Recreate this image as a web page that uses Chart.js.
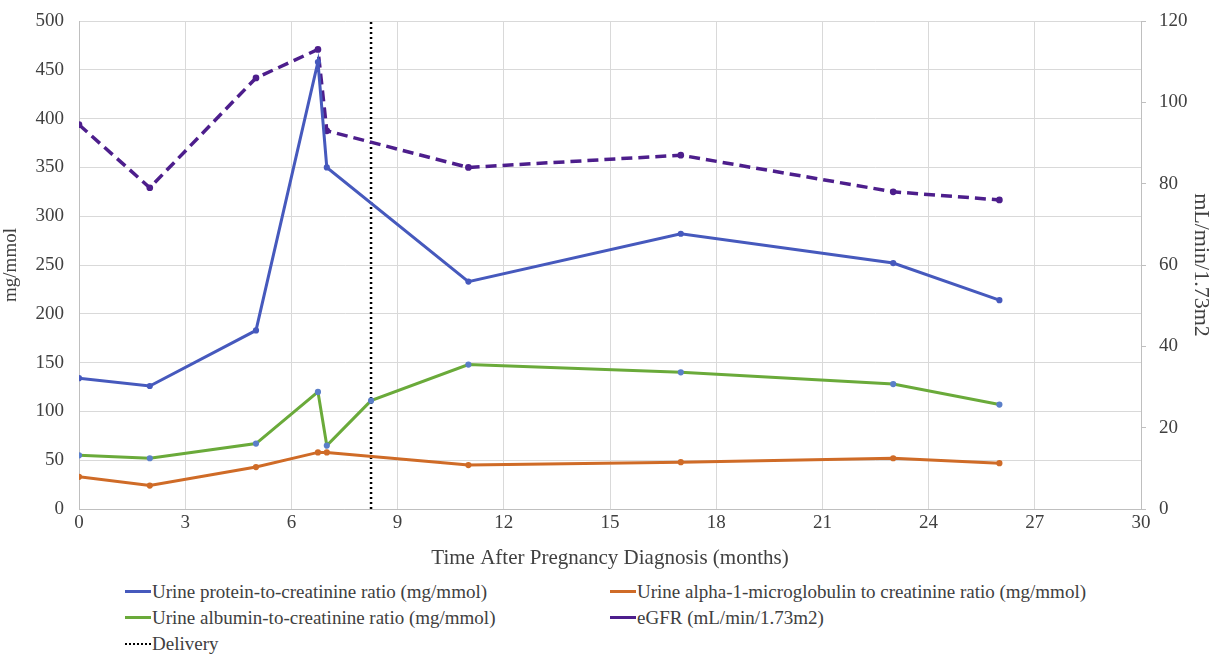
<!DOCTYPE html>
<html>
<head>
<meta charset="utf-8">
<script src="https://cdn.jsdelivr.net/npm/chart.js@4.4.1/dist/chart.umd.min.js"></script>
<style>
  body { margin: 0; background: #fff; }
  #wrap { position: relative; width: 1214px; height: 654px; }
  #chart { position: absolute; left: 0; top: 0; }
  #legend { position: absolute; left: 125px; top: 580px; font-family: "Liberation Serif", serif; font-size: 19px; color: #404040;
    display: grid; grid-template-columns: 485px 500px; row-gap: 3px; }
  .item { display: flex; align-items: center; height: 23px; white-space: nowrap; }
  .sw { width: 26px; height: 3px; margin-right: 1px; }
</style>
</head>
<body>
<div id="wrap">
  <canvas id="chart" width="1214" height="575"></canvas>
  <div id="legend"></div>
</div>
<script>
// Months after pregnancy diagnosis (8.25 = delivery, only albumin measured there)
const months = [0, 2, 5, 6.75, 7, 8.25, 11, 17, 23, 26];
const protein = [134, 126, 183, 458, 350, null, 233, 282, 252, 214];
const alpha1 = [33, 24, 43, 58, 58, null, 45, 48, 52, 47];
const albumin = [55, 52, 67, 120, 65, 111, 148, 140, 128, 107];
const egfr = [94.5, 79, 106, 113, 93, null, 84, 87, 78, 76];
const deliveryMonth = 8.25;

const xTicks = [0, 3, 6, 9, 12, 15, 18, 21, 24, 27, 30];

const toPts = arr => months.map((m, i) => ({ x: m, y: arr[i] })).filter(p => p.y !== null);

const BLUE = '#4659bd', ORANGE = '#cf6b27', GREEN = '#6aaa3a', PURPLE = '#4d1e8c';
const FONT = 'Liberation Serif';
const TXT = '#404040';

// keep the plot box fixed, labels may overhang it
const fixY = w => s => { s.width = w; s.paddingTop = 0; s.paddingBottom = 0; };

new Chart(document.getElementById('chart'), {
    type: 'line',
    data: {
        datasets: [
            { label: 'Urine protein-to-creatinine ratio (mg/mmol)', data: toPts(protein), borderColor: BLUE, backgroundColor: BLUE, borderWidth: 3, pointRadius: 1.6, yAxisID: 'y' },
            { label: 'Urine alpha-1-microglobulin to creatinine ratio (mg/mmol)', data: toPts(alpha1), borderColor: ORANGE, backgroundColor: ORANGE, borderWidth: 3, pointRadius: 1.6, yAxisID: 'y' },
            { label: 'Urine albumin-to-creatinine ratio (mg/mmol)', data: toPts(albumin), borderColor: GREEN, backgroundColor: '#5b7fc9', pointBorderColor: '#5b7fc9', borderWidth: 3, pointRadius: 1.6, yAxisID: 'y' },
            { label: 'eGFR (mL/min/1.73m2)', data: toPts(egfr), borderColor: PURPLE, backgroundColor: PURPLE, borderWidth: 3.5, borderDash: [11, 6], pointRadius: 1.6, yAxisID: 'y1' },
            { label: 'Delivery', data: [{ x: deliveryMonth, y: 0 }, { x: deliveryMonth, y: 500 }], borderColor: '#000', borderWidth: 2.5, borderDash: [2, 3], pointRadius: 0, yAxisID: 'y' }
        ]
    },
    options: {
        responsive: false,
        animation: false,
        layout: { padding: { top: 21, right: 0, left: 0, bottom: 0 } },
        plugins: { legend: { display: false }, tooltip: { enabled: false } },
        scales: {
            x: {
                type: 'linear', min: 0, max: 30,
                afterBuildTicks: s => { s.ticks = xTicks.map(v => ({ value: v })); },
                grid: { color: '#d9d9d9', drawTicks: false },
                border: { color: '#bfbfbf' },
                ticks: { color: TXT, font: { family: FONT, size: 19 }, padding: 3 },
                title: { display: true, text: 'Time After Pregnancy Diagnosis (months)', color: TXT, font: { family: FONT, size: 21 }, padding: { top: 1 } },
                afterFit: s => { s.height = 66; }
            },
            y: {
                position: 'left', min: 0, max: 500,
                grid: { color: '#d9d9d9', drawTicks: false },
                border: { color: '#bfbfbf' },
                ticks: { stepSize: 50, color: TXT, font: { family: FONT, size: 19 }, padding: 15 },
                title: { display: true, text: 'mg/mmol', color: TXT, font: { family: FONT, size: 19 }, padding: 0 },
                afterFit: fixY(79)
            },
            y1: {
                position: 'right', min: 0, max: 120,
                grid: { drawOnChartArea: false, color: '#bfbfbf', tickLength: 5 },
                border: { color: '#bfbfbf' },
                ticks: { stepSize: 20, color: TXT, font: { family: FONT, size: 19 }, padding: 13 },
                title: { display: true, text: 'mL/min/1.73m2', color: TXT, font: { family: FONT, size: 22 }, padding: 0 },
                afterFit: fixY(73)
            }
        }
    }
});

// legend (two columns like the original)
const legendItems = [
    { text: 'Urine protein-to-creatinine ratio (mg/mmol)', color: BLUE },
    { text: 'Urine alpha-1-microglobulin to creatinine ratio (mg/mmol)', color: ORANGE },
    { text: 'Urine albumin-to-creatinine ratio (mg/mmol)', color: GREEN },
    { text: 'eGFR (mL/min/1.73m2)', color: PURPLE },
    { text: 'Delivery', color: '#000', dotted: true }
];
document.getElementById('legend').innerHTML = legendItems.map(it => `
    <div class="item"><span class="sw" style="${it.dotted ? 'height:0;border-top:2px dotted #000' : 'background:' + it.color}"></span>${it.text}</div>
`).join('');
</script>
</body>
</html>
